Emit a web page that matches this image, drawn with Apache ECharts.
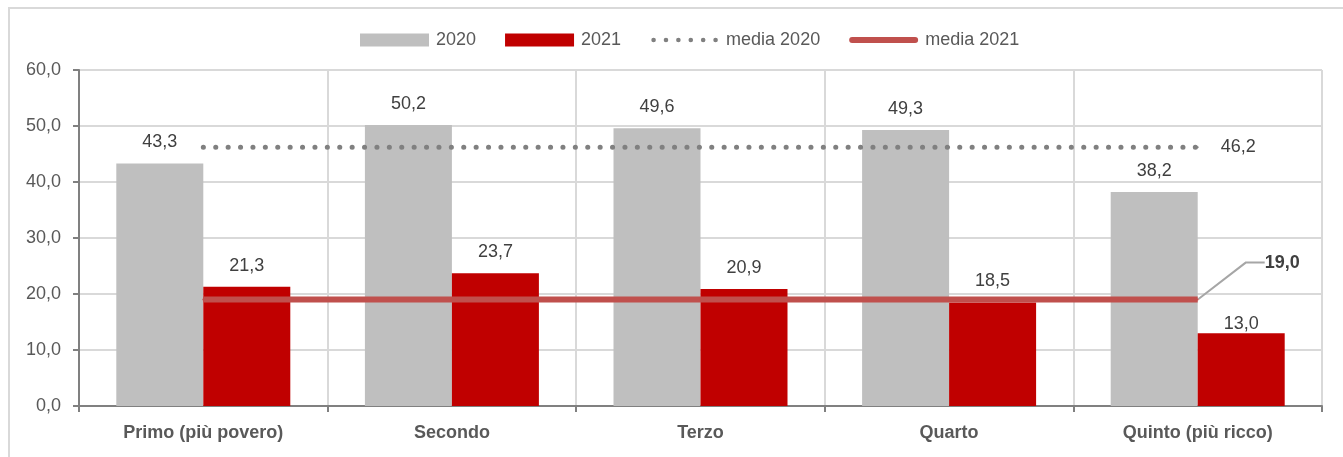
<!DOCTYPE html>
<html>
<head>
<meta charset="utf-8">
<script src="https://cdn.jsdelivr.net/npm/echarts@6/dist/echarts.min.js"></script>
<style>
html,body{margin:0;padding:0;background:#fff;}
#chart{width:1343px;height:457px;}
</style>
</head>
<body>
<div id="chart"></div>
<script>
const categories = ['Primo (più povero)', 'Secondo', 'Terzo', 'Quarto', 'Quinto (più ricco)'];
const values2020 = [43.3, 50.2, 49.6, 49.3, 38.2];
const values2021 = [21.3, 23.7, 20.9, 18.5, 13.0];
const media2020 = [46.2, 46.2, 46.2, 46.2, 46.2];
const media2021 = [19.0, 19.0, 19.0, 19.0, 19.0];
const seriesNames = ['2020', '2021', 'media 2020', 'media 2021'];

const FONT = '"Liberation Sans", Arial, sans-serif';
const FS = 18;
const fmt = v => Number(v).toFixed(1).replace('.', ',');
const last = categories.length - 1;

// legend icons (69 x 13 box)
const dotsIcon = 'path://' + [0, 1, 2, 3, 4, 5].map(i => {
  const cx = 3.5 + i * 12.4;
  return `M${cx - 2.3},6.5a2.3,2.3 0 1,0 4.6,0a2.3,2.3 0 1,0 -4.6,0Z`;
}).join('') + 'M0,0h0.01v0.01h-0.01ZM69,12.99h0.01v0.01h-0.01Z';
const lineIcon = 'path://M0,0h0.01v0.01h-0.01ZM69,12.99h0.01v0.01h-0.01ZM3,3.5H66A3,3 0 0 1 66,9.5H3A3,3 0 0 1 3,3.5Z';

const chart = echarts.init(document.getElementById('chart'), null, {renderer: 'canvas'});
chart.setOption({
  animation: false,
  textStyle: {fontFamily: FONT},
  graphic: [{
    type: 'rect', silent: true, z: -10,
    shape: {x: 9, y: 8, width: 1400, height: 500},
    style: {fill: 'none', stroke: '#d9d9d9', lineWidth: 2}
  }],
  legend: {
    top: 26, left: 355,
    itemWidth: 69, itemHeight: 13, itemGap: 29,
    symbolKeepAspect: true,
    textStyle: {fontFamily: FONT, fontSize: FS, color: '#595959', padding: [0, 0, 0, 2]},
    data: [
      {name: seriesNames[0], icon: 'rect'},
      {name: seriesNames[1], icon: 'rect'},
      {name: seriesNames[2], icon: dotsIcon, itemStyle: {color: '#808080'}},
      {name: seriesNames[3], icon: lineIcon, itemStyle: {color: '#c0504d'}}
    ]
  },
  grid: {left: 79, right: 21, top: 70, bottom: 51, containLabel: false},
  xAxis: {
    type: 'category', data: categories,
    axisLine: {lineStyle: {color: '#808080', width: 2}},
    axisTick: {show: true, length: 6, lineStyle: {color: '#808080', width: 2}},
    splitLine: {show: true, lineStyle: {color: '#d9d9d9', width: 2}},
    axisLabel: {fontFamily: FONT, fontSize: FS, fontWeight: 'bold', color: '#595959', margin: 18}
  },
  yAxis: {
    type: 'value', min: 0, max: 60, interval: 10,
    axisLine: {show: true, lineStyle: {color: '#808080', width: 2}},
    axisTick: {show: true, length: 6, lineStyle: {color: '#808080', width: 2}},
    splitLine: {show: true, lineStyle: {color: '#d9d9d9', width: 2}},
    axisLabel: {fontFamily: FONT, fontSize: FS, color: '#595959', margin: 18, formatter: v => fmt(v)}
  },
  series: [
    {
      name: seriesNames[0], type: 'bar', data: values2020,
      barWidth: 87, barGap: '0%',
      itemStyle: {color: '#bfbfbf'},
      label: {show: true, position: 'top', distance: 12, fontFamily: FONT, fontSize: FS, color: '#404040', formatter: p => fmt(p.value)}
    },
    {
      name: seriesNames[1], type: 'bar',
      data: values2021.map((v, i) => i === last ? {value: v, label: {offset: [0, 12]}} : v),
      barWidth: 87, barGap: '0%',
      itemStyle: {color: '#c00000'},
      label: {show: true, position: 'top', distance: 12, fontFamily: FONT, fontSize: FS, color: '#404040', formatter: p => fmt(p.value)}
    },
    {
      name: seriesNames[2], type: 'line',
      data: media2020.map((v, i) => i === last ? {value: v, label: {show: true}} : v),
      symbol: 'circle', symbolSize: 2, showSymbol: true, z: 5,
      lineStyle: {color: '#808080', width: 5, type: [0.1, 12.3], cap: 'round'},
      itemStyle: {color: '#808080'},
      label: {show: false, position: 'right', distance: 22, fontFamily: FONT, fontSize: FS, color: '#404040', formatter: p => fmt(p.value)}
    },
    {
      name: seriesNames[3], type: 'line',
      data: media2021.map((v, i) => i === last ? {value: v, label: {show: true}} : v),
      symbol: 'circle', symbolSize: 2, showSymbol: true, z: 6,
      lineStyle: {color: '#c0504d', width: 6},
      itemStyle: {color: '#c0504d'},
      label: {show: false, position: 'right', distance: 4, fontFamily: FONT, fontSize: FS, fontWeight: 'bold', color: '#404040', formatter: p => fmt(p.value)},
      labelLayout: {dx: 62, dy: -37},
      labelLine: {show: true, length2: 19, lineStyle: {color: '#a6a6a6', width: 2}}
    }
  ]
});
</script>
</body>
</html>
